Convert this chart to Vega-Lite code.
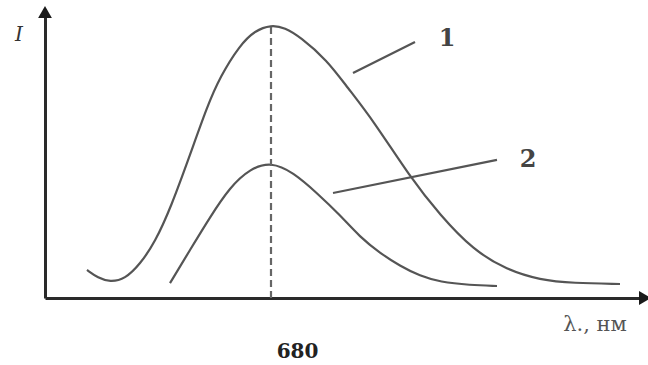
{
  "$schema": "https://vega.github.io/schema/vega-lite/v6.json",
  "width": 600,
  "height": 286,
  "autosize": {"type": "none"},
  "padding": {"left": 45, "top": 12, "right": 3, "bottom": 67},
  "background": "white",
  "config": {
    "view": {"stroke": null},
    "axisX": {"domainColor": "#2a2a2a", "domainWidth": 3, "ticks": false, "grid": false, "labelFont": "DejaVu Serif", "labelFontWeight": "bold", "labelFontSize": 20, "labelColor": "#222", "labelPadding": 43, "labelOffset": 26, "title": null},
    "axisY": {"domainColor": "#2a2a2a", "domainWidth": 3, "ticks": false, "grid": false, "labels": false, "title": null}
  },
  "datasets": {
    "curves": [
      {"curve": "1", "x": 588, "y": 0.098},
      {"curve": "1", "x": 593.5, "y": 0.070},
      {"curve": "1", "x": 599.5, "y": 0.056},
      {"curve": "1", "x": 607, "y": 0.066},
      {"curve": "1", "x": 614.5, "y": 0.118},
      {"curve": "1", "x": 622, "y": 0.195},
      {"curve": "1", "x": 630, "y": 0.318},
      {"curve": "1", "x": 639.5, "y": 0.5},
      {"curve": "1", "x": 648, "y": 0.668},
      {"curve": "1", "x": 654.5, "y": 0.773},
      {"curve": "1", "x": 664.5, "y": 0.885},
      {"curve": "1", "x": 672, "y": 0.935},
      {"curve": "1", "x": 680, "y": 0.955},
      {"curve": "1", "x": 687, "y": 0.945},
      {"curve": "1", "x": 694.5, "y": 0.913},
      {"curve": "1", "x": 708, "y": 0.832},
      {"curve": "1", "x": 718, "y": 0.738},
      {"curve": "1", "x": 731, "y": 0.622},
      {"curve": "1", "x": 749.5, "y": 0.423},
      {"curve": "1", "x": 764.5, "y": 0.29},
      {"curve": "1", "x": 781, "y": 0.168},
      {"curve": "1", "x": 798, "y": 0.098},
      {"curve": "1", "x": 814.5, "y": 0.063},
      {"curve": "1", "x": 831, "y": 0.052},
      {"curve": "1", "x": 854.5, "y": 0.049},
      {"curve": "2", "x": 629.5, "y": 0.052},
      {"curve": "2", "x": 639.5, "y": 0.168},
      {"curve": "2", "x": 649.5, "y": 0.283},
      {"curve": "2", "x": 659.5, "y": 0.388},
      {"curve": "2", "x": 669.5, "y": 0.452},
      {"curve": "2", "x": 680, "y": 0.476},
      {"curve": "2", "x": 691, "y": 0.44},
      {"curve": "2", "x": 703, "y": 0.367},
      {"curve": "2", "x": 714.5, "y": 0.29},
      {"curve": "2", "x": 724.5, "y": 0.213},
      {"curve": "2", "x": 734.5, "y": 0.157},
      {"curve": "2", "x": 744.5, "y": 0.112},
      {"curve": "2", "x": 754.5, "y": 0.077},
      {"curve": "2", "x": 764.5, "y": 0.056},
      {"curve": "2", "x": 779.5, "y": 0.045},
      {"curve": "2", "x": 793, "y": 0.042}
    ],
    "leaders": [
      {"curve": "1", "x": 721, "y": 0.787, "x2": 752, "y2": 0.895},
      {"curve": "2", "x": 711, "y": 0.367, "x2": 793, "y2": 0.483}
    ],
    "curveLabels": [
      {"label": "1", "x": 768, "y": 0.906},
      {"label": "2", "x": 808.5, "y": 0.483}
    ],
    "peak": [{"x": 680, "y": 0, "y2": 0.951}],
    "arrows": [
      {"axis": "y", "x": 567, "y": 1.0, "shape": "triangle-up"},
      {"axis": "x", "x": 867, "y": 0, "shape": "triangle-right"}
    ],
    "axisTitles": [
      {"title": "I", "x": 554, "y": 0.92, "kind": "y"},
      {"title": "λ., нм", "x": 842, "y": -0.094, "kind": "x"}
    ]
  },
  "layer": [
    {
      "data": {"name": "curves"},
      "mark": {"type": "line", "interpolate": "basis", "color": "#555", "strokeWidth": 2.2},
      "encoding": {
        "x": {"field": "x", "type": "quantitative", "scale": {"domain": [567, 867], "nice": false, "zero": false}, "axis": {"values": [680], "format": "d"}},
        "y": {"field": "y", "type": "quantitative", "scale": {"domain": [0, 1], "nice": false}},
        "detail": {"field": "curve"}
      }
    },
    {
      "data": {"name": "peak"},
      "mark": {"type": "rule", "color": "#666", "strokeWidth": 2.2, "strokeDash": [7, 4]},
      "encoding": {
        "x": {"field": "x", "type": "quantitative"},
        "y": {"field": "y", "type": "quantitative"},
        "y2": {"field": "y2"}
      }
    },
    {
      "data": {"name": "leaders"},
      "mark": {"type": "rule", "color": "#555", "strokeWidth": 2.2},
      "encoding": {
        "x": {"field": "x", "type": "quantitative"},
        "y": {"field": "y", "type": "quantitative"},
        "x2": {"field": "x2"},
        "y2": {"field": "y2"}
      }
    },
    {
      "data": {"name": "curveLabels"},
      "mark": {"type": "text", "font": "DejaVu Serif", "fontWeight": "bold", "fontSize": 24, "color": "#444"},
      "encoding": {
        "x": {"field": "x", "type": "quantitative"},
        "y": {"field": "y", "type": "quantitative"},
        "text": {"field": "label"}
      }
    },
    {
      "data": {"name": "axisTitles"},
      "transform": [{"filter": "datum.kind == 'y'"}],
      "mark": {"type": "text", "font": "DejaVu Serif", "fontStyle": "italic", "fontSize": 20, "color": "#333"},
      "encoding": {
        "x": {"field": "x", "type": "quantitative"},
        "y": {"field": "y", "type": "quantitative"},
        "text": {"field": "title"}
      }
    },
    {
      "data": {"name": "axisTitles"},
      "transform": [{"filter": "datum.kind == 'x'"}],
      "mark": {"type": "text", "font": "DejaVu Serif", "fontSize": 21, "color": "#555"},
      "encoding": {
        "x": {"field": "x", "type": "quantitative"},
        "y": {"field": "y", "type": "quantitative"},
        "text": {"field": "title"}
      }
    },
    {
      "data": {"name": "arrows"},
      "mark": {"type": "point", "filled": true, "opacity": 1, "color": "#1a1a1a", "size": 190},
      "encoding": {
        "x": {"field": "x", "type": "quantitative"},
        "y": {"field": "y", "type": "quantitative"},
        "shape": {"field": "shape", "type": "nominal", "scale": null}
      }
    }
  ]
}
